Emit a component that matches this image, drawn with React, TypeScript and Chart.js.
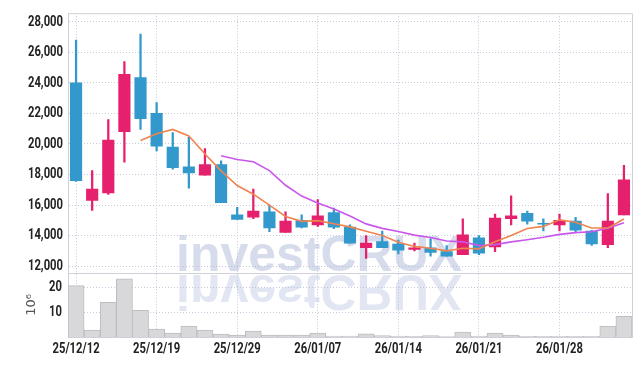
import React, { useEffect, useRef } from "react";
import { Chart, registerables } from "chart.js";

Chart.register(...registerables);

const dates = [
  "25/12/12", "25/12/15", "25/12/16", "25/12/17", "25/12/18", "25/12/19", "25/12/22", "25/12/23", "25/12/24", "25/12/26",
  "25/12/29", "25/12/30", "26/01/02", "26/01/05", "26/01/06", "26/01/07", "26/01/08", "26/01/09", "26/01/12", "26/01/13",
  "26/01/14", "26/01/15", "26/01/16", "26/01/19", "26/01/20", "26/01/21", "26/01/22", "26/01/23", "26/01/26", "26/01/27",
  "26/01/28", "26/01/29", "26/01/30", "26/02/02", "26/02/03",
];

const opens = [24000, 16300, 16800, 20800, 24350, 22000, 19800, 18500, 17950, 18650, 15350, 15200, 15550, 14200, 15000, 14700, 15500, 14550, 13200, 13600, 13450, 13100, 13200, 12950, 12750, 13850, 13250, 15100, 15450, 14800, 14700, 14950, 14300, 13400, 15350];
const closes = [17600, 17050, 20250, 24550, 21650, 19850, 18450, 18100, 18650, 16150, 15050, 15600, 14500, 14950, 14550, 15300, 14550, 13500, 13500, 13200, 13050, 13200, 12900, 12650, 14050, 12850, 15150, 15300, 14950, 14750, 15000, 14350, 13450, 14950, 17650];
const highs = [26800, 18250, 21600, 25400, 27200, 22700, 20750, 20450, 19700, 18900, 15850, 17050, 16000, 15550, 15350, 16350, 15800, 14700, 14000, 14300, 13700, 13500, 13800, 13350, 15100, 14000, 15400, 16600, 15600, 15100, 15400, 15200, 14350, 16750, 18600];
const lows = [17550, 15650, 16700, 18800, 20950, 19550, 18350, 17100, 17950, 16150, 15050, 15100, 14250, 14200, 14500, 14600, 14450, 13500, 12500, 13200, 12800, 13000, 12650, 12650, 12750, 12750, 12950, 14700, 14750, 14300, 14300, 14200, 13350, 13200, 15350];

const ma5 = [null, null, null, null, 20220, 20670, 20950, 20520, 19340, 18240, 17280, 16710, 15990, 15250, 14930, 14980, 14770, 14570, 14280, 14010, 13560, 13290, 13170, 13000, 13170, 13130, 13600, 14000, 14460, 14600, 15030, 14870, 14500, 14500, 15080];
const ma10 = [null, null, null, null, null, null, null, null, null, 19230, 18975, 18830, 18255, 17295, 16585, 16130, 15740, 15280, 14765, 14470, 14270, 14030, 13870, 13640, 13590, 13345, 13405, 13585, 13730, 13885, 14080, 14195, 14250, 14480, 14840];

const volumes = [20.8, 2.8, 14.0, 23.6, 10.8, 3.2, 1.6, 4.4, 2.8, 1.2, 0.8, 2.4, 0.8, 0.8, 0.8, 1.6, 0.4, 0.4, 1.3, 0.6, 0.4, 0.3, 0.6, 0.2, 2.0, 0.4, 1.6, 0.8, 0.3, 0.3, 0.3, 0.3, 0.3, 4.4, 8.4];

const priceTicks = [12000, 14000, 16000, 18000, 20000, 22000, 24000, 26000, 28000];
const volumeTicks = [10, 20];
const dateTickEvery = 5;

const UP = "#e5206d";
const DOWN = "#3399cc";
const GRID = "#c6cadb";
const FRAME = "#cfd0d8";
const LABEL_FONT = "bold 15px Roboto, 'DejaVu Sans', sans-serif";
const SQUEEZE = 0.75;

const fmt = (v: number) => v.toLocaleString("en-US");

function squeezedText(ctx: any, text: string, x: number, y: number, align: string) {
  ctx.save();
  ctx.translate(x, y);
  ctx.scale(SQUEEZE, 1);
  ctx.textAlign = align;
  ctx.textBaseline = "middle";
  ctx.fillText(text, 0, 0);
  ctx.restore();
}

const decor = {
  id: "decor",
  beforeDatasetsDraw(chart: any) {
    const { ctx, chartArea } = chart;
    const sep = chart.scales.y.bottom;
    ctx.save();
    ctx.font = "bold 50px 'Liberation Sans', Arial, sans-serif";
    ctx.textAlign = "left";
    ctx.textBaseline = "alphabetic";
    const wx = chartArea.left + 108;
    ctx.fillStyle = "rgba(175,186,218,0.5)";
    ctx.fillText("investCRUX", wx, sep - 2);
    ctx.save();
    ctx.translate(0, 2 * sep);
    ctx.scale(1, -1);
    ctx.fillStyle = "rgba(175,186,218,0.36)";
    ctx.fillText("investCRUX", wx, sep - 2);
    ctx.restore();
    ctx.strokeStyle = FRAME;
    ctx.lineWidth = 1;
    ctx.beginPath();
    ctx.moveTo(chartArea.left, chartArea.top + 0.5);
    ctx.lineTo(chartArea.right + 0.5, chartArea.top + 0.5);
    ctx.lineTo(chartArea.right + 0.5, chartArea.bottom);
    ctx.moveTo(chartArea.left, Math.round(sep) + 0.5);
    ctx.lineTo(chartArea.right, Math.round(sep) + 0.5);
    ctx.stroke();
    ctx.restore();
  },
  afterDraw(chart: any) {
    const { ctx, chartArea } = chart;
    const { x, y, yv } = chart.scales;
    ctx.save();
    ctx.font = LABEL_FONT;
    ctx.fillStyle = "#222";
    const lx = chartArea.left - 5;
    priceTicks.forEach((v) => squeezedText(ctx, fmt(v), lx, y.getPixelForValue(v), "right"));
    volumeTicks.forEach((v) => squeezedText(ctx, String(v), lx - 1, yv.getPixelForValue(v), "right"));
    dates.forEach((d, i) => {
      if (i % dateTickEvery === 0) squeezedText(ctx, d, x.getPixelForValue(i), chartArea.bottom + 12, "center");
    });
    ctx.restore();
  },
};

export default function App() {
  const ref = useRef<HTMLCanvasElement | null>(null);

  useEffect(() => {
    if (!ref.current) return;
    const colors = closes.map((c, i) => (c >= opens[i] ? UP : DOWN));
    const hidden = "rgba(0,0,0,0)";
    const chart = new Chart(ref.current, {
      type: "bar",
      data: {
        labels: dates,
        datasets: [
          {
            type: "line",
            label: "MA5",
            data: ma5 as any,
            yAxisID: "y",
            borderColor: "#ee8450",
            borderWidth: 1.6,
            pointRadius: 0,
            tension: 0,
            order: 1,
          },
          {
            type: "line",
            label: "MA10",
            data: ma10 as any,
            yAxisID: "y",
            borderColor: "#c957ea",
            borderWidth: 1.6,
            pointRadius: 0,
            tension: 0,
            order: 1,
          },
          {
            type: "bar",
            label: "body",
            data: opens.map((o, i) => [o, closes[i]]) as any,
            yAxisID: "y",
            backgroundColor: colors,
            borderWidth: 0,
            barThickness: 11.5,
            grouped: false,
            order: 2,
          },
          {
            type: "bar",
            label: "wick",
            data: lows.map((l, i) => [l, highs[i]]) as any,
            yAxisID: "y",
            backgroundColor: colors,
            borderWidth: 0,
            barThickness: 1.6,
            grouped: false,
            order: 3,
          },
          {
            type: "bar",
            label: "volume",
            data: volumes,
            yAxisID: "yv",
            backgroundColor: "#d8d8da",
            borderColor: "#bdbdc2",
            borderWidth: 1,
            barPercentage: 1,
            categoryPercentage: 1,
            grouped: false,
            order: 4,
          },
        ],
      },
      options: {
        responsive: false,
        animation: false,
        layout: { padding: { top: 9, right: 10, left: 0, bottom: 0 } },
        plugins: {
          legend: { display: false },
          tooltip: { enabled: false },
        },
        scales: {
          x: {
            type: "category",
            offset: true,
            grid: { color: GRID, offset: false, drawTicks: false },
            border: { display: true, color: FRAME, dash: [1, 2] },
            ticks: {
              autoSkip: false,
              maxRotation: 0,
              padding: 5,
              color: hidden,
              font: { size: 14 },
              callback: (_v: any, i: number) => (i % dateTickEvery === 0 ? dates[i] : null),
            },
            afterFit: (s: any) => {
              s.height = 29;
            },
          },
          yv: {
            type: "linear",
            position: "left",
            stack: "panes",
            stackWeight: 65,
            min: 0,
            max: 26,
            grid: { color: GRID, drawTicks: false },
            border: { display: true, color: FRAME, dash: [1, 2] },
            ticks: { color: hidden, padding: 6 },
            afterBuildTicks: (s: any) => {
              s.ticks = volumeTicks.map((v) => ({ value: v }));
            },
            title: {
              display: true,
              text: "10⁶",
              color: "#555",
              font: { family: "'DejaVu Sans', sans-serif", size: 13 },
              padding: { top: 24, bottom: 0 },
            },
            afterFit: (s: any) => {
              s.width = 68;
            },
          },
          y: {
            type: "linear",
            position: "left",
            stack: "panes",
            stackWeight: 263,
            min: 11560,
            max: 28560,
            grid: { color: GRID, drawTicks: false },
            border: { display: true, color: FRAME, dash: [1, 2] },
            ticks: { color: hidden, padding: 5 },
            afterBuildTicks: (s: any) => {
              s.ticks = priceTicks.map((v) => ({ value: v }));
            },
            afterFit: (s: any) => {
              s.width = 68;
            },
          },
        },
      } as any,
      plugins: [decor],
    });
    return () => chart.destroy();
  }, []);

  return (
    <div style={{ position: "fixed", left: 0, top: 0, width: 642, height: 366, background: "#fff" }}>
      <canvas ref={ref} width={642} height={366} style={{ display: "block" }} />
    </div>
  );
}
